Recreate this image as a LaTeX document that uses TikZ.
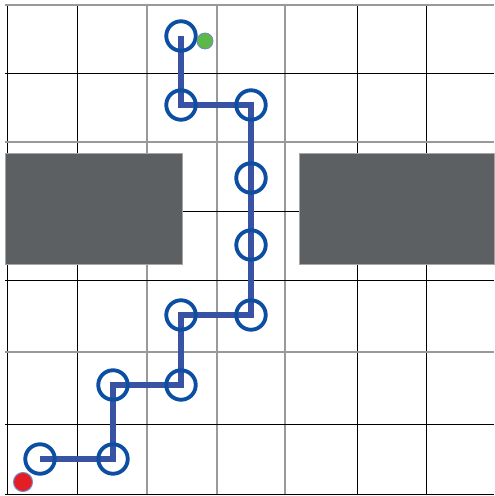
\documentclass[tikz,border=0pt]{standalone}
\begin{document}
\begin{tikzpicture}[x=0.02cm,y=-0.02cm,
  gridblack/.style={draw=black,line width=0.5pt},
  gridgray/.style={draw=black!40,line width=0.6pt},
  block/.style={fill=blockgray,draw=black!35,line width=0.4pt},
  cellring/.style={circle,draw=ringblue,line width=2.2pt,minimum size=0.59cm,inner sep=0pt},
  pathline/.style={draw=lineblue,line width=3.4pt,line join=miter},
  goal/.style={circle,fill=goalgreen,draw=lineblue!70,line width=0.5pt,minimum size=0.32cm,inner sep=0pt},
  start/.style={circle,fill=startred,draw=lineblue!70,line width=0.6pt,minimum size=0.38cm,inner sep=0pt}]
\definecolor{blockgray}{HTML}{5D6063}
\definecolor{ringblue}{HTML}{0B4EA2}
\definecolor{lineblue}{HTML}{3853A4}
\definecolor{goalgreen}{HTML}{5CB947}
\definecolor{startred}{HTML}{E31E24}
\useasboundingbox (0,0) rectangle (494,496);
% grid
\foreach \x in {7,77,357,426} \draw[gridblack] (\x,5) -- (\x,494);
\foreach \x in {147,217,285} \draw[gridgray] (\x,5) -- (\x,494);
\foreach \y in {73,211,280,424,494} \draw[gridblack] (5,\y) -- (494,\y);
\foreach \y in {5,142,352} \draw[gridgray] (5,\y) -- (494,\y);
% obstacles
\path[block] (5,153) rectangle (182,264);
\path[block] (299,153) rectangle (494,264);
% path points
\coordinate (p1) at (181,36);
\coordinate (p2) at (181,105);
\coordinate (p3) at (251,105);
\coordinate (p4) at (251,178);
\coordinate (p5) at (251,245);
\coordinate (p6) at (251,315);
\coordinate (p7) at (181,315);
\coordinate (p8) at (181,385);
\coordinate (p9) at (113,385);
\coordinate (p10) at (113,459);
\coordinate (p11) at (40,459);
\draw[pathline] (p11) -- (p10) -- (p9) -- (p8) -- (p7) -- (p6) -- (p5) -- (p4) -- (p3) -- (p2) -- (p1);
\foreach \i in {1,...,11} \node[cellring] (c\i) at (p\i) {};
\node[goal] (g) at (205,41) {};
\node[start] (s) at (23,482) {};
\end{tikzpicture}
\end{document}
